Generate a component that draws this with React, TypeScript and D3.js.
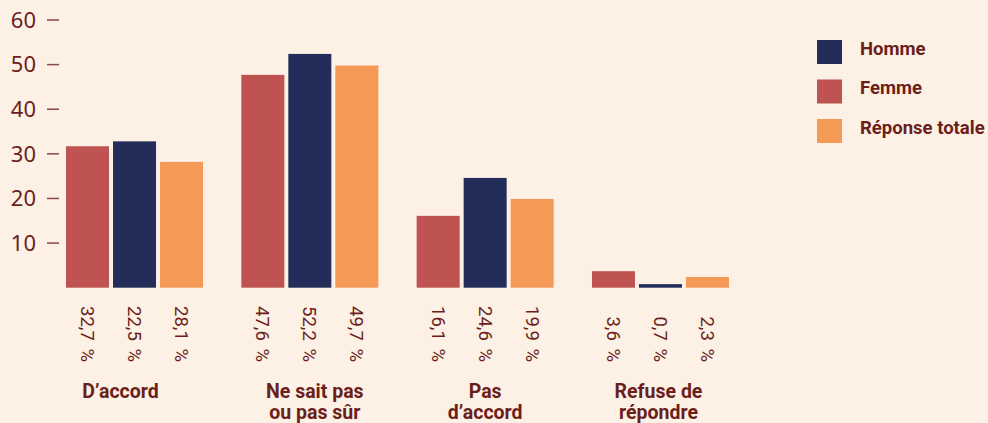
import React from "react";
import * as d3 from "d3";

const categories = ["D’accord", "Ne sait pas|ou pas sûr", "Pas|d’accord", "Refuse de|répondre"];
const seriesNames = ["Femme", "Homme", "Réponse totale"];
const femme = [31.7, 47.7, 16.1, 3.7];
const homme = [32.8, 52.4, 24.6, 0.8];
const total = [28.2, 49.8, 19.9, 2.4];
const valueLabels = [
  ["32,7 %", "22,5 %", "28,1 %"],
  ["47,6 %", "52,2 %", "49,7 %"],
  ["16,1 %", "24,6 %", "19,9 %"],
  ["3,6 %", "0,7 %", "2,3 %"],
];
const yTicks = [10, 20, 30, 40, 50, 60];
const legendOrder = ["Homme", "Femme", "Réponse totale"];

const W = 988;
const H = 423;
const BG = "#fdf0e5";
const TEXT = "#6b1f1b";
const colors: Record<string, string> = {
  Femme: "#be5352",
  Homme: "#222d5a",
  "Réponse totale": "#f49a56",
};

export default function App() {
  const seriesValues = [femme, homme, total];
  const y = d3.scaleLinear().domain([0, 60]).range([287.7, 20]);
  const x0 = d3.scaleBand<string>().domain(categories).range([66, 729]).paddingInner(0.2185).paddingOuter(0);
  const x1 = d3.scaleBand<string>().domain(seriesNames).range([0, x0.bandwidth()]).paddingInner(0.085).paddingOuter(0);
  const labelShift = [-14, 5, 0, -2];

  return (
    <div style={{ position: "absolute", left: 0, top: 0, width: W, height: H, background: BG }}>
      <svg width={W} height={H} style={{ display: "block" }}>
        <rect x={0} y={0} width={W} height={H} fill={BG} />
        {yTicks.map((t) => (
          <g key={t}>
            <line x1={47} x2={59} y1={y(t)} y2={y(t)} stroke="#8c4a44" strokeWidth={1.5} />
            <text
              x={36}
              y={y(t)}
              dy="0.35em"
              textAnchor="end"
              fontFamily="'Noto Sans', 'Open Sans', sans-serif"
              fontSize={22}
              fill={TEXT}
            >
              {t}
            </text>
          </g>
        ))}
        {categories.map((c, ci) => (
          <g key={c} transform={`translate(${x0(c)},0)`}>
            {seriesNames.map((s, si) => {
              const v = seriesValues[si][ci];
              const bx = x1(s)!;
              return (
                <g key={s}>
                  <rect x={bx} y={y(v)} width={x1.bandwidth()} height={y(0) - y(v)} fill={colors[s]} />
                  <text
                    transform={`translate(${bx + x1.bandwidth() / 2},362) rotate(90)`}
                    textAnchor="end"
                    dy="0.35em"
                    fontFamily="Roboto, sans-serif"
                    fontSize={18.5}
                    wordSpacing={3}
                    fill={TEXT}
                  >
                    {valueLabels[ci][si]}
                  </text>
                </g>
              );
            })}
            {c.split("|").map((line, li) => (
              <text
                key={li}
                x={x0.bandwidth() / 2 + labelShift[ci]}
                y={398 + li * 21}
                textAnchor="middle"
                fontFamily="Roboto, sans-serif"
                fontWeight={700}
                fontSize={19.5}
                fill={TEXT}
              >
                {line}
              </text>
            ))}
          </g>
        ))}
        {legendOrder.map((s, i) => (
          <g key={s} transform={`translate(817,${40 + i * 39.5})`}>
            <rect x={0} y={0} width={25} height={24} fill={colors[s]} />
            <text x={43} y={8.5} dy="0.35em" fontFamily="Roboto, sans-serif" fontWeight={700} fontSize={18.5} fill={TEXT}>
              {s}
            </text>
          </g>
        ))}
      </svg>
    </div>
  );
}
